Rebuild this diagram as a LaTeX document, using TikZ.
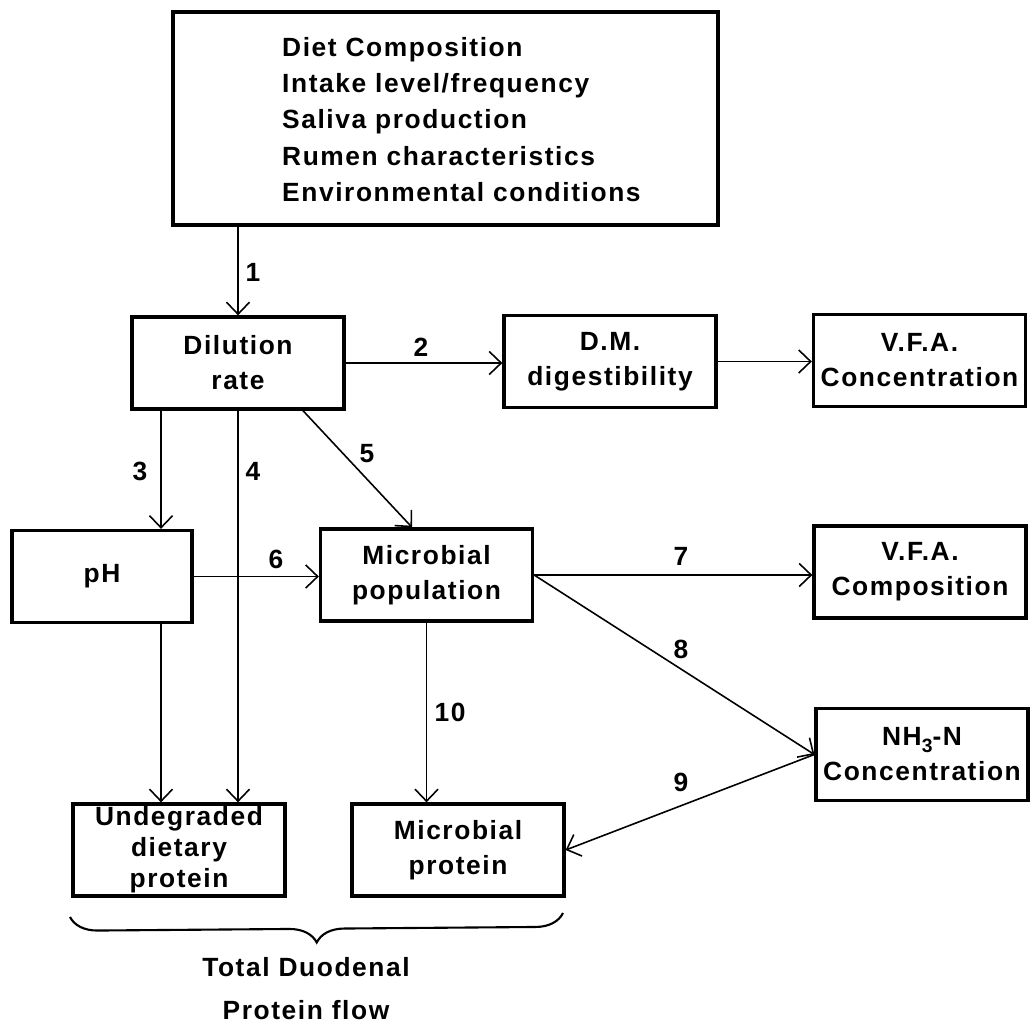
\documentclass[tikz,border=0pt]{standalone}
\usepackage{fontspec}
\setmainfont{Liberation Sans}[LetterSpace=6]
\usepackage{tikz}
\usetikzlibrary{arrows.meta,decorations.pathreplacing}
\tikzset{>={Straight Barb[length=2.4mm,width=4.6mm]}}
\tikzstyle{box}=[draw,line width=1.9pt,minimum width=4.24cm,minimum height=1.84cm,align=center,inner sep=0pt]
\tikzstyle{num}=[inner sep=0pt]
\tikzstyle{link}=[->,line width=0.9pt]
\def\fsize#1{\fontsize{15}{#1}\selectfont\bfseries}
\def\sub#1{\raisebox{-0.45ex}{\fontsize{11}{11}\selectfont#1}}

\begin{document}
\begin{tikzpicture}[x=0.02cm,y=-0.02cm,font=\fsize{19.9}]
      \useasboundingbox (0,0) rectangle (1032,1033);

      % BOXES
      \node[box,minimum width=10.9cm,minimum height=4.26cm,line width=2.2pt] (factors) at (445.5,118.5) {};
      \node[anchor=west,align=left,font=\fsize{20.6}] (factorlist) at (276,119.5)
        {Diet Composition\\Intake level/frequency\\Saliva production\\Rumen characteristics\\Environmental conditions};
      \node[box] (rate) at (238,363) {Dilution\\rate};
      \node[box] (dm) at (610,361.5) {D.M.\\digestibility};
      \node[box] (vfac) at (919.5,360.5) {V.F.A.\\Concentration};
      \node[box,minimum width=3.6cm] (ph) at (102,576.5) {pH};
      \node[box] (pop) at (426.5,575) {Microbial\\population};
      \node[box] (vfacomp) at (920,572) {V.F.A.\\Composition};
      \node[box] (nh3) at (922,754.5) {NH\sub{3}-N\\Concentration};
      \node[box,font=\fsize{17.6}] (undeg) at (179,850) {Undegraded\\dietary\\protein};
      \node[box] (mprot) at (458,850) {Microbial\\protein};

      % ARROWS
      \draw[link] (factors.south -| rate.north) -- (rate.north);
      \draw[link] (rate.east) -- (rate.east -| dm.west);
      \draw[link] (dm.east) -- (dm.east -| vfac.west);
      \draw[link] ([xshift=-1.54cm]rate.south) coordinate (r3) -- (r3 |- ph.north);
      \draw[link] (rate.south) -- (rate.south |- undeg.north);
      \draw[link] ([xshift=1.3cm]rate.south) -- ([xshift=-0.29cm]pop.north);
      \draw[link] (ph.east) -- (ph.east -| pop.west);
      \draw[link] (ph.south -| r3) -- (r3 |- undeg.north);
      \draw[link] (pop.east) -- (pop.east -| vfacomp.west);
      \draw[link] (pop.east) -- (nh3.west);
      \draw[link] (nh3.west) -- (mprot.east);
      \draw[link] (pop.south) -- (pop.south |- mprot.north);

      % LABELS
      \foreach \lbl/\x/\y in {1/253/272, 2/421/347, 3/140/471, 4/253/471, 5/367/454,
                              6/276/559, 7/681/556, 8/681/649, 9/681/782, 10/450/712}
        \node[num] (n\lbl) at (\x,\y) {\lbl};

      % BRACE
      \draw[decorate,decoration={brace,amplitude=0.55cm},line width=1.2pt] (563,913) -- (70,917);
      \node[align=center,font=\fsize{24.4}] (flow) at (306,988.5) {Total Duodenal\\Protein flow};

\end{tikzpicture}
\end{document}
